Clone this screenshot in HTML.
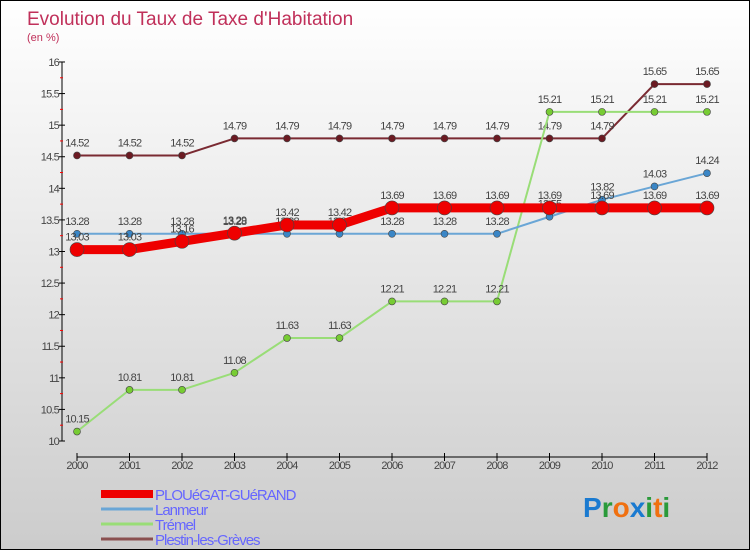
<!DOCTYPE html>
<html><head><meta charset="utf-8"><style>
body{margin:0}
#c{width:748px;height:548px;border:1px solid #000;background:linear-gradient(#fff,#ccc);position:relative;font-family:"Liberation Sans",sans-serif}
svg{position:absolute;left:0;top:0}
</style></head><body>
<div id="c">
<svg id="s" width="750" height="550">
<text x="26" y="24" font-size="19" fill="#c0305a">Evolution du Taux de Taxe d'Habitation</text>
<text x="26" y="40" font-size="11" fill="#c0305a">(en %)</text>
</svg>
</div>
<script>
const years=[2000,2001,2002,2003,2004,2005,2006,2007,2008,2009,2010,2011,2012];
const yTicks=[10,10.5,11,11.5,12,12.5,13,13.5,14,14.5,15,15.5,16];
const plou=[13.03,13.03,13.16,13.29,13.42,13.42,13.69,13.69,13.69,13.69,13.69,13.69,13.69];
const lanmeur=[13.28,13.28,13.28,13.28,13.28,13.28,13.28,13.28,13.28,13.55,13.82,14.03,14.24];
const tremel=[10.15,10.81,10.81,11.08,11.63,11.63,12.21,12.21,12.21,15.21,15.21,15.21,15.21];
const plestin=[14.52,14.52,14.52,14.79,14.79,14.79,14.79,14.79,14.79,14.79,14.79,15.65,15.65];
const names=["PLOUéGAT-GUéRAND","Lanmeur","Trémel","Plestin-les-Grèves"];
const s=document.getElementById('s');const NS="http://www.w3.org/2000/svg";
const X=y=>76+(y-2000)*52.5, Y=v=>440-(v-10)*63.17;
function el(t,a,p){const e=document.createElementNS(NS,t);for(const k in a)e.setAttribute(k,a[k]);(p||s).appendChild(e);return e;}
let e=el('line',{x1:61,y1:61,x2:61,y2:440,stroke:'#000'});

e=el('line',{x1:76,y1:456,x2:706,y2:456,stroke:'#000'});

yTicks.forEach(v=>{el('line',{x1:58,y1:Y(v),x2:64,y2:Y(v),stroke:'#000'});
 if(v<16){el('line',{x1:59,y1:Y(v+0.25),x2:62,y2:Y(v+0.25),stroke:'#f00'});}
 const t=el('text',{x:58,y:Y(v)+4,'font-size':11,fill:'#444','text-anchor':'end','letter-spacing':'-0.8'});t.textContent=v;
 });
years.forEach(y=>{el('line',{x1:X(y),y1:452,x2:X(y),y2:460,stroke:'#000'});
 const t=el('text',{x:X(y),y:468,'font-size':11,fill:'#444','text-anchor':'middle','letter-spacing':'-0.8'});t.textContent=y;
 });
const series=[[plestin,'#7a2a32','#6b1a22',2,3.5,'plestin'],[tremel,'#99dd77','#77cc33',2,3.5,'tremel'],[lanmeur,'#6aa6d6','#3a86c6',2,3.5,'lanmeur'],[plou,'#e00','#e00',9,7,'plouegat']];
series.forEach(([d,c,fc,w,r,n])=>{
 const g=el('g',{});
 el('polyline',{points:d.map((v,i)=>X(years[i])+','+Y(v)).join(' '),fill:'none',stroke:c,'stroke-width':w,'stroke-linejoin':'round'},g);
 d.forEach((v,i)=>{const p=el('circle',{cx:X(years[i]),cy:Y(v),r:r,fill:fc,stroke:'#444','stroke-width':0.6},g);
  
  const t=el('text',{x:X(years[i]),y:Y(v)-9,'font-size':11,fill:'#444','text-anchor':'middle','letter-spacing':'-0.8'},g);t.textContent=v.toFixed(2).replace(/0$/,'');
  });
});
const lc=['#e00','#6aa6d6','#99dd77','#8a5050'],lw=[8,3,3,3];
names.forEach((nm,i)=>{const y=493+i*15;
 el('line',{x1:100,y1:y,x2:152,y2:y,stroke:lc[i],'stroke-width':lw[i]});
 const t=el('text',{x:154,y:y+6,'font-size':15,fill:'#66f','letter-spacing':'-1'});t.textContent=nm;
 });
const lg=el('text',{x:582,y:516,'font-size':28,'font-weight':'bold'});

[['P','#1a7ad0'],['r','#2a9a3a'],['o','#f07010'],['x','#1a7ad0'],['i','#2a9a3a'],['t','#f07010'],['i','#2a9a3a']].forEach(([ch,c])=>{const sp=el('tspan',{fill:c},lg);sp.textContent=ch;});
</script>
</body></html>
